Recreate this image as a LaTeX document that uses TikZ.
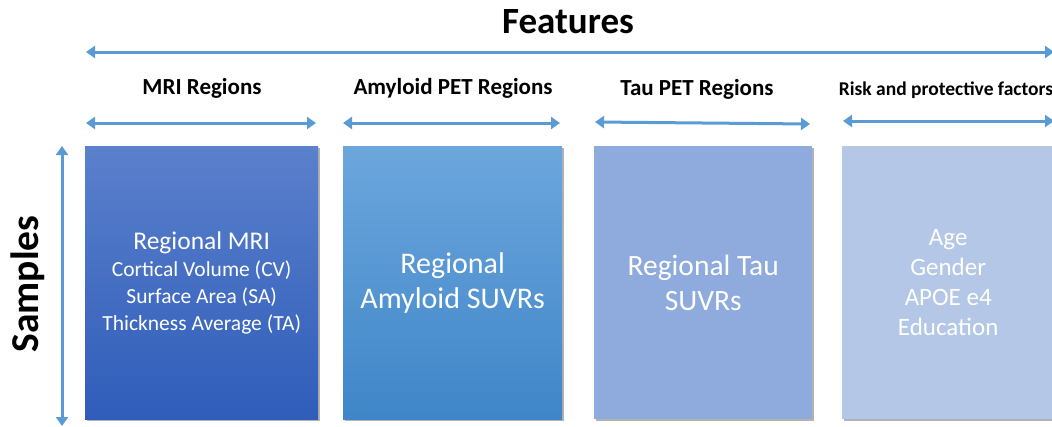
\documentclass[tikz,border=0pt]{standalone}
\usepackage{fontspec}
\setmainfont{Carlito}
\usetikzlibrary{arrows.meta,shadows}
\definecolor{arr}{HTML}{5B9BD5}
\definecolor{bOneTop}{HTML}{5B80CC}
\definecolor{bOneBot}{HTML}{2F5DB9}
\definecolor{bTwoTop}{HTML}{6CA6DD}
\definecolor{bTwoBot}{HTML}{3F86C8}
\definecolor{bThree}{HTML}{8FAADC}
\definecolor{bFour}{HTML}{B4C7E7}
\begin{document}
\begin{tikzpicture}[x=1pt,y=-1pt,
  darr/.style={arr, line width=3pt, {Triangle[length=9pt,width=12pt]}-{Triangle[length=9pt,width=12pt]}},
  box/.style={anchor=north west, inner sep=0pt, minimum height=273pt, text=white, align=center,
    drop shadow={shadow xshift=2pt, shadow yshift=-2pt, opacity=0.3, fill=black}},
  head/.style={font=\bfseries\fontsize{23}{26}\selectfont, text=black}
]
\useasboundingbox (0,0) rectangle (1052,426);

\node[box, minimum width=233pt, top color=bOneTop, bottom color=bOneBot,
  font=\fontsize{21.5}{27}\selectfont] (b1) at (85,146)
  {{\fontsize{25.5}{27}\selectfont Regional MRI}\\Cortical Volume (CV)\\Surface Area (SA)\\Thickness Average (TA)};
\node[box, minimum width=219pt, top color=bTwoTop, bottom color=bTwoBot,
  font=\fontsize{30}{35}\selectfont] (b2) at (343,146) {Regional\\Amyloid SUVRs};
\node[box, minimum width=218pt, fill=bThree,
  font=\fontsize{29.5}{35}\selectfont] (b3) at (594,146) {Regional Tau\\SUVRs};
\node[box, minimum width=212pt, fill=bFour,
  font=\fontsize{25}{30}\selectfont] (b4) at (842,146) {Age\\Gender\\APOE e4\\Education};

\node[font=\bfseries\fontsize{37}{40}\selectfont] (feat) at (568,22) {Features};
\node[head] (h1) at (202,88) {MRI Regions};
\node[head] (h2) at (453,88) {Amyloid PET Regions};
\node[head] (h3) at (697,89) {Tau PET Regions};
\node[head, font=\bfseries\fontsize{19.5}{22}\selectfont] (h4) at (946,90) {Risk and protective factors};
\node[font=\bfseries\fontsize{39.5}{42}\selectfont, rotate=90] (samp) at (28,284) {Samples};

\coordinate (fa) at (86,52);  \coordinate (fb) at (1054,52);
\coordinate (ma) at (86,123); \coordinate (mb) at (316,123);
\coordinate (aa) at (343,123); \coordinate (ab) at (560,123);
\coordinate (ta) at (595,122); \coordinate (tb) at (810,124);
\coordinate (ra) at (843,121); \coordinate (rb) at (1054,121);
\coordinate (sa) at (62,146); \coordinate (sb) at (62,426);
\draw[darr] (fa) -- (fb);
\draw[darr] (ma) -- (mb);
\draw[darr] (aa) -- (ab);
\draw[darr] (ta) -- (tb);
\draw[darr] (ra) -- (rb);
\draw[darr] (sa) -- (sb);
\end{tikzpicture}
\end{document}
